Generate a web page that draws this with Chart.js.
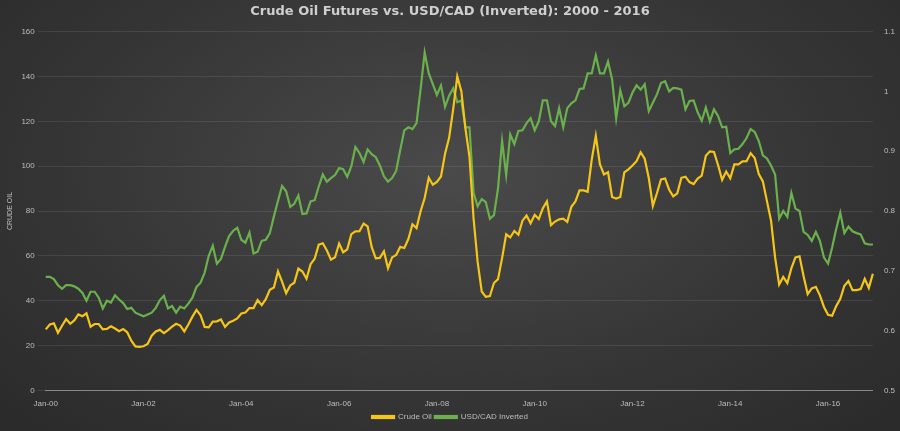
<!DOCTYPE html>
<html><head><meta charset="utf-8">
<script src="https://cdn.jsdelivr.net/npm/chart.js@4"></script>
<style>
html,body{margin:0;padding:0;}
body{width:900px;height:431px;background:radial-gradient(ellipse at 50% 40%,#4a4a4a 0%,#353535 60%,#2a2a2a 100%);overflow:hidden;}
#c{position:absolute;left:0;top:0;}
</style></head><body>
<canvas id="c" width="900" height="431"></canvas>
<script>
const years=[0,1,2,3,4,5,6,7,8,9,10,11,12,13,14,15,16];
const months=[];
years.forEach(y=>{for(let m=0;m<12;m++)months.push('Jan-'+String(y).padStart(2,'0')+(m?'#'+m:''));});
const crudeOil=[
27.2,29.4,29.9,25.7,28.8,31.8,29.7,31.2,33.9,33.1,34.4,28.4,
29.6,29.6,27.2,27.4,28.6,27.6,26.4,27.4,25.9,22.2,19.6,19.4,
19.7,20.7,24.4,26.3,27.0,25.5,26.9,28.4,29.7,28.9,26.3,29.4,
32.9,35.9,33.5,28.3,28.1,30.7,30.8,31.6,28.3,30.3,31.1,32.1,
34.3,34.7,36.7,36.7,40.3,38.0,40.7,44.9,45.9,53.1,48.5,43.3,
46.8,48.0,54.3,53.0,49.8,56.3,58.7,65.0,65.6,62.4,58.3,59.4,
65.5,61.6,62.9,69.7,70.9,71.0,74.4,73.1,63.9,58.9,59.1,62.0,
54.5,59.3,60.4,64.0,63.5,67.5,74.1,72.4,79.9,85.8,94.8,91.7,
93.0,95.4,105.5,112.6,125.4,140.0,133.4,116.7,104.1,76.6,57.3,44.1,
41.7,42.1,47.9,49.6,59.0,69.6,68.2,71.1,69.4,75.7,78.0,74.5,
78.3,76.4,81.2,84.3,73.7,75.3,76.3,76.6,75.2,81.9,84.3,89.2,
89.2,88.6,102.9,113.5,100.9,96.3,97.3,86.3,85.5,86.3,97.2,98.6,
100.3,102.2,106.2,103.3,94.7,82.3,87.9,94.1,94.5,89.5,86.5,87.9,
94.8,95.3,92.9,92.0,94.5,95.8,104.6,106.6,106.3,100.5,93.9,97.6,
94.6,100.8,100.8,102.1,102.2,105.8,103.6,96.5,93.2,84.4,75.8,59.3,
47.2,50.6,47.8,54.5,59.3,59.8,50.9,42.9,45.5,46.2,42.4,37.2,
33.7,33.3,37.6,40.8,46.7,48.8,44.7,44.7,45.2,49.8,45.7,52.0];
const usdCadInverted=[
0.690,0.690,0.686,0.676,0.670,0.676,0.676,0.674,0.670,0.663,0.650,0.665,
0.665,0.655,0.637,0.650,0.647,0.659,0.652,0.646,0.636,0.638,0.630,0.627,
0.624,0.627,0.630,0.638,0.651,0.658,0.637,0.641,0.630,0.640,0.637,0.645,
0.655,0.673,0.680,0.697,0.725,0.742,0.712,0.720,0.740,0.758,0.767,0.772,
0.752,0.747,0.764,0.729,0.732,0.750,0.752,0.763,0.791,0.817,0.842,0.833,
0.807,0.812,0.826,0.795,0.796,0.816,0.818,0.841,0.861,0.849,0.855,0.860,
0.872,0.870,0.857,0.875,0.907,0.897,0.882,0.903,0.895,0.890,0.876,0.858,
0.849,0.855,0.867,0.902,0.935,0.940,0.937,0.947,1.004,1.065,1.030,1.012,
0.994,1.010,0.974,0.993,1.005,0.982,0.985,0.940,0.940,0.830,0.808,0.820,
0.815,0.787,0.793,0.838,0.917,0.860,0.928,0.912,0.934,0.935,0.947,0.955,
0.935,0.950,0.985,0.985,0.950,0.942,0.972,0.940,0.972,0.980,0.985,1.004,
1.005,1.030,1.030,1.060,1.030,1.030,1.050,1.020,0.955,1.002,0.975,0.981,
0.998,1.010,1.003,1.012,0.967,0.981,0.995,1.014,1.017,1.000,1.006,1.005,
1.003,0.970,0.984,0.985,0.965,0.951,0.973,0.950,0.970,0.959,0.940,0.941,
0.897,0.903,0.904,0.912,0.922,0.937,0.932,0.917,0.893,0.888,0.876,0.861,
0.787,0.800,0.790,0.830,0.804,0.800,0.765,0.760,0.750,0.765,0.750,0.722,
0.712,0.739,0.770,0.797,0.763,0.774,0.766,0.763,0.761,0.746,0.744,0.744];
const tc='#bdbdbd', gc='rgba(255,255,255,0.09)';
new Chart(document.getElementById('c'),{
type:'line',
data:{labels:months,datasets:[
{label:'Crude Oil',data:crudeOil,borderColor:'#f5c518',backgroundColor:'#f5c518',borderWidth:2.2,pointRadius:0,tension:0,yAxisID:'y'},
{label:'USD/CAD Inverted',data:usdCadInverted,borderColor:'#6ab04c',backgroundColor:'#6ab04c',borderWidth:2.2,pointRadius:0,tension:0,yAxisID:'y1'}]},
options:{responsive:false,animation:false,devicePixelRatio:1,
layout:{padding:{left:2,right:2,top:0,bottom:0}},
plugins:{
title:{display:true,text:'Crude Oil Futures vs. USD/CAD (Inverted): 2000 - 2016',color:'#cfcfcf',font:{family:'DejaVu Sans',size:13,weight:'bold'},padding:{top:4,bottom:12}},
legend:{position:'bottom',labels:{color:tc,font:{family:'Liberation Sans',size:8},boxWidth:22,boxHeight:2,padding:3}}},
scales:{
x:{grid:{display:false},border:{color:'#888'},
 ticks:{color:tc,padding:1,font:{family:'Liberation Sans',size:8},autoSkip:false,maxRotation:0,
 callback:(v,i)=> (i%24===0)?months[i]:''}},
y:{position:'left',min:0,max:160,ticks:{stepSize:20,autoSkip:false,color:tc,font:{family:'Liberation Sans',size:8}},grid:{color:gc},border:{display:false},
 title:{display:true,text:'CRUDE OIL',color:tc,font:{family:'Liberation Sans',size:7}}},
y1:{position:'right',min:0.5,max:1.1,ticks:{stepSize:0.1,autoSkip:false,color:tc,font:{family:'Liberation Sans',size:8},callback:v=>+v.toFixed(1)},grid:{display:false},border:{display:false}}
}}});
</script></body></html>
